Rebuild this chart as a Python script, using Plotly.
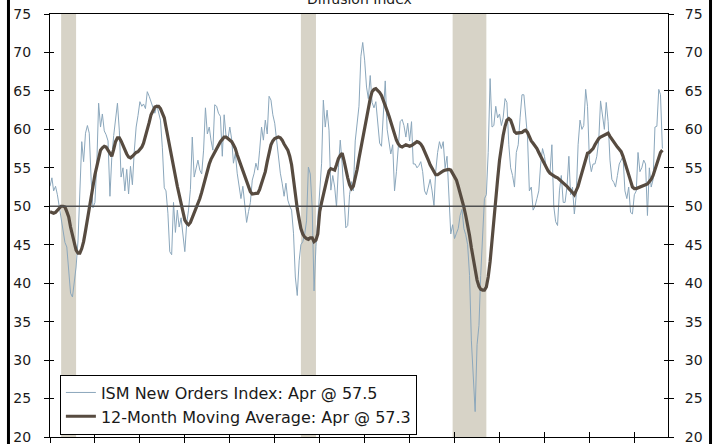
import pandas as pd
import plotly.graph_objects as go

start_month = "1990-01-01"

ism_1990s = [
    52.6, 53.7, 52.0, 52.6, 51.5, 50.0, 48.3, 46.5, 45.3, 44.7, 41.5, 38.7,
    38.2, 40.0, 42.1, 45.5, 52.5, 58.4, 55.8, 59.5, 60.5, 59.5, 53.4, 49.8,
    50.5, 55.6, 63.4, 60.3, 62.0, 59.8, 59.3, 58.5, 51.3, 56.3, 59.2, 61.4,
    63.4, 59.8, 53.8, 55.0, 52.0, 54.8, 51.6, 55.2, 52.8, 57.1, 60.3, 61.8,
    63.6, 63.0, 63.3, 62.7, 64.9, 64.3, 63.6, 62.8, 62.1, 63.2, 62.3, 61.2,
    57.6, 52.4, 52.0, 49.1, 44.1, 43.7, 50.5, 46.6, 49.5, 47.3, 48.5, 46.0,
    44.1, 47.8, 49.5, 52.2, 59.0, 53.8, 54.7, 56.0, 54.7, 54.2, 57.3, 62.8,
    59.4, 60.3, 58.6, 57.3, 63.2, 63.0, 62.1, 61.7, 56.5, 61.9, 59.1, 58.7,
    60.3, 58.7, 55.6, 56.9, 54.3, 52.6, 51.0, 52.6, 50.5, 47.9, 49.3, 50.5,
    53.4, 54.3, 55.6, 54.7, 57.3, 60.3, 58.6, 61.2, 59.4, 64.3, 63.8, 61.9,
]
ism_2000s = [
    60.8, 58.5, 56.0, 54.3, 53.0, 51.3, 53.0, 50.8, 50.0, 49.5, 46.5, 40.8,
    38.4, 42.9, 45.0, 45.4, 46.3, 48.1, 55.1, 54.2, 49.8, 39.0, 44.8, 48.2,
    52.1, 55.6, 63.8, 60.3, 62.5, 59.9, 52.1, 54.0, 52.5, 49.9, 55.0, 58.6,
    55.5, 51.0, 47.2, 47.5, 51.5, 53.2, 52.0, 58.5, 61.2, 63.0, 69.5, 71.3,
    69.0, 65.5, 64.0, 67.0, 63.5, 62.8, 63.6, 61.3, 58.2, 57.8, 61.5, 66.3,
    60.0, 58.2, 56.8, 58.0, 52.0, 54.5, 58.0, 61.0, 61.3, 60.5, 59.0, 60.8,
    58.5, 61.0, 55.5, 55.5, 55.0, 55.3, 55.8, 54.5, 52.0, 51.5, 52.5, 53.5,
    52.0, 50.1, 54.5, 57.0, 58.4, 57.5, 58.4, 55.0, 56.5, 50.4, 46.4, 47.6,
    45.8, 46.5, 47.1, 48.8, 49.6, 47.1, 46.3, 45.0, 41.0, 32.5, 27.5, 23.3,
    32.0, 34.5, 41.0, 47.0, 51.0, 51.5, 57.0, 66.6, 60.3, 60.5, 63.0, 61.5,
]
ism_2010s = [
    62.0, 60.5, 61.5, 64.0, 63.5, 58.0, 55.0, 54.0, 52.5, 57.0, 58.0, 61.5,
    64.5, 64.5, 62.0, 59.0, 52.0, 52.5, 49.5, 50.0, 51.0, 52.0, 55.5, 57.5,
    56.5, 55.0, 54.5, 54.5, 58.0, 50.0, 48.0, 47.5, 52.0, 54.0, 50.5, 50.5,
    52.5, 56.5, 51.5, 52.5, 49.0, 51.5, 58.0, 61.2, 60.0, 60.5, 65.2, 63.0,
    56.0, 54.5, 55.5, 55.5, 56.5, 58.5, 63.7, 62.0, 60.0, 63.5, 61.0, 56.0,
    53.5, 53.1, 52.5, 54.0, 55.5, 56.0, 56.5, 52.0, 51.0, 52.5, 49.2, 49.0,
    51.5, 52.0, 57.0, 54.5, 55.0, 56.0, 55.5, 48.8, 55.0, 52.5, 53.5, 60.3,
    60.4, 65.2, 64.5, 57.5,
]

ma_1990s = [
    49.3, 49.2, 49.1, 49.2, 49.5, 49.8, 50.0, 50.0, 49.9, 49.3, 48.6, 47.3,
    46.1, 45.0, 44.3, 43.9, 43.9, 44.5, 45.4, 46.8, 48.4, 50.0, 51.5, 52.9,
    54.1, 55.2, 56.3, 57.3, 57.6, 57.8, 57.7, 57.3, 56.9, 56.5, 57.4, 58.4,
    58.9, 58.9, 58.5, 57.9, 57.3, 56.8, 56.4, 56.3, 56.5, 56.8, 57.0, 57.1,
    57.4, 57.7, 58.2, 59.0, 59.9, 60.9, 61.9, 62.5, 62.9, 63.0, 63.0, 62.7,
    62.1, 61.5, 60.3, 59.1, 57.7, 56.3, 55.1, 53.9, 52.6, 51.4, 50.2, 49.2,
    48.2, 47.8, 47.6, 47.9, 48.5, 49.3, 49.8, 50.3, 51.0, 51.8, 52.7, 53.7,
    54.8, 55.5, 56.1, 56.6, 57.1, 57.6, 58.1, 58.4, 58.7, 59.0, 59.0, 58.8,
    58.6, 58.4, 58.0, 57.5, 56.7, 56.0, 55.2, 54.5, 53.8, 53.1, 52.4, 51.9,
    51.6, 51.6, 51.6, 51.7, 52.2, 52.9, 53.6, 54.5, 55.8, 57.0, 58.0, 58.5,
]
ma_2000s = [
    58.8, 58.9, 59.0, 58.9, 58.6, 58.1, 57.7, 57.3, 56.5, 55.4, 53.5, 51.5,
    49.7, 48.3, 47.1, 46.4, 46.0, 45.8, 45.7, 45.9, 45.9, 45.4, 45.6, 46.4,
    49.3, 50.5, 51.6, 52.7, 53.6, 54.6, 54.9, 54.8, 54.7, 55.4, 56.2, 56.6,
    56.9, 55.9, 54.7, 53.7, 52.8, 52.3, 52.6, 53.6, 54.8, 56.2, 57.5, 58.8,
    60.3, 61.7, 62.9, 64.0, 64.9, 65.2, 65.3, 65.1, 64.8, 64.4, 63.8, 63.1,
    62.4, 61.7, 60.9, 60.1, 59.3, 58.6, 58.1, 57.8, 57.7, 57.8, 58.0, 57.9,
    57.8, 57.9, 58.1, 58.3, 58.4, 58.3, 58.1, 57.7, 57.2, 56.6, 56.0, 55.4,
    54.9, 54.4, 54.1, 54.1, 54.3, 54.5, 54.6, 54.7, 54.8, 54.8, 54.7, 54.3,
    53.9, 53.4, 52.6, 51.8, 50.9, 49.9, 48.8, 47.6, 46.2, 44.6, 43.1, 41.6,
    40.4, 39.6, 39.2, 39.1, 39.1, 39.5, 40.8, 42.8, 45.8, 48.6, 50.8, 53.5,
]
ma_2010s = [
    56.0, 57.8, 59.2, 60.4, 61.2, 61.4, 61.2, 60.5, 59.7, 59.5, 59.5, 59.5,
    59.6, 59.8, 59.9, 59.6, 59.0, 58.5, 58.2, 57.9, 57.5, 57.0, 56.5, 56.0,
    55.4, 55.0, 54.6, 54.3, 54.1, 54.0, 53.8, 53.7, 53.5, 53.3, 53.1, 52.9,
    52.6, 52.3, 52.1, 51.8, 51.5, 52.0, 52.6, 53.5, 54.4, 55.3, 56.2, 56.9,
    57.0, 57.2, 57.5, 58.0, 58.5, 58.8, 59.0, 59.1, 59.2, 59.4, 59.5, 59.1,
    58.7, 58.4, 58.0, 57.7, 57.4, 57.1, 56.5, 55.6, 54.9, 54.1, 53.3, 52.5,
    52.3, 52.3, 52.4, 52.5, 52.7, 52.8, 52.8, 52.9, 53.2, 53.5, 54.0, 54.8,
    55.7, 56.4, 57.0, 57.3,
]

ism_new_orders = ism_1990s + ism_2000s + ism_2010s
moving_avg_12m = ma_1990s + ma_2000s + ma_2010s
months = pd.date_range(start_month, periods=len(ism_new_orders), freq="MS")

recessions = [("1990-07-01", "1991-03-01"), ("2001-03-01", "2001-11-01"), ("2007-12-01", "2009-06-01")]

legend_raw = "ISM New Orders Index: Apr @ 57.5"
legend_ma = "12-Month Moving Average: Apr @ 57.3"
title_text = "Diffusion Index"

FONT = "DejaVu Sans"
TXT = "#1a1a1a"

fig = go.Figure()
fig.add_trace(go.Scatter(x=months, y=ism_new_orders, mode="lines", name=legend_raw,
                         line=dict(color="#8ba7bc", width=1)))
fig.add_trace(go.Scatter(x=months, y=moving_avg_12m, mode="lines", name=legend_ma,
                         line=dict(color="#574b40", width=3.2)))
# invisible helper traces so the overlay axes (right labels, inner tick halves) get drawn
fig.add_trace(go.Scatter(x=months[:1], y=ism_new_orders[:1], xaxis="x", yaxis="y2",
                         mode="lines", line=dict(width=0), opacity=0,
                         showlegend=False, hoverinfo="skip"))
fig.add_trace(go.Scatter(x=months[:1], y=ism_new_orders[:1], xaxis="x2", yaxis="y3",
                         mode="lines", line=dict(width=0), opacity=0,
                         showlegend=False, hoverinfo="skip"))

for a, b in recessions:
    fig.add_shape(type="rect", xref="x", yref="paper", x0=a, x1=b, y0=0, y1=1,
                  fillcolor="#d7d3c7", line=dict(width=0), layer="below")

fig.add_shape(type="line", xref="paper", yref="y", x0=0, x1=1, y0=50, y1=50,
              line=dict(color="#505050", width=1.5))

# outer frame edges of the (cropped) chart
for xp in [-0.0672, 1.0688]:
    fig.add_shape(type="line", xref="paper", yref="paper", x0=xp, x1=xp, y0=-0.06, y1=1.04,
                  line=dict(color="black", width=3))

fig.add_annotation(text=title_text, xref="paper", yref="paper", x=0.5, y=1.036,
                   xanchor="center", yanchor="middle", showarrow=False,
                   font=dict(family=FONT, size=14, color=TXT))

x_range = ["1990-01-01", "2017-07-01"]
y_range = [20, 75]
fig.update_layout(
    width=715, height=470,
    margin=dict(l=50, r=47, t=14, b=33, autoexpand=False),
    paper_bgcolor="white", plot_bgcolor="white",
    font=dict(family=FONT, size=14, color=TXT),
    showlegend=True,
    legend=dict(x=0.016, y=0.1476, xanchor="left", yanchor="top",
                bgcolor="white", bordercolor="black", borderwidth=1,
                font=dict(family=FONT, size=16, color=TXT),
                tracegroupgap=0, itemwidth=30),
    xaxis=dict(range=x_range, type="date", tick0="1990-01-01", dtick="M24",
               ticks="outside", ticklen=5, tickcolor="black", showticklabels=False,
               showline=True, linecolor="black", linewidth=1, mirror=True,
               showgrid=False, zeroline=False),
    xaxis2=dict(range=x_range, type="date", tick0="1990-01-01", dtick="M24",
                overlaying="x", side="bottom", anchor="y3", ticks="inside", ticklen=5,
                tickcolor="black", showticklabels=False, showline=False,
                showgrid=False, zeroline=False),
    yaxis=dict(range=y_range, dtick=5, ticks="outside", ticklen=5, tickcolor="black",
               showline=True, linecolor="black", linewidth=1,
               showgrid=False, zeroline=False, ticklabelstandoff=10),
    yaxis2=dict(range=y_range, dtick=5, overlaying="y", side="right", anchor="x",
                ticks="outside", ticklen=5, tickcolor="black",
                showline=True, linecolor="black", linewidth=1,
                showgrid=False, zeroline=False, ticklabelstandoff=8),
    yaxis3=dict(range=y_range, dtick=5, overlaying="y", side="left", anchor="x2",
                ticks="inside", ticklen=4, tickcolor="black", mirror="ticks",
                showticklabels=False, showline=False, showgrid=False, zeroline=False),
)

fig.write_html(
    "out.html", config={"displayModeBar": False},
    post_script=("document.documentElement.style.overflow='hidden';"
                 "document.body.style.overflow='hidden';"
                 "document.body.style.margin='0';document.body.style.padding='0';"),
)
